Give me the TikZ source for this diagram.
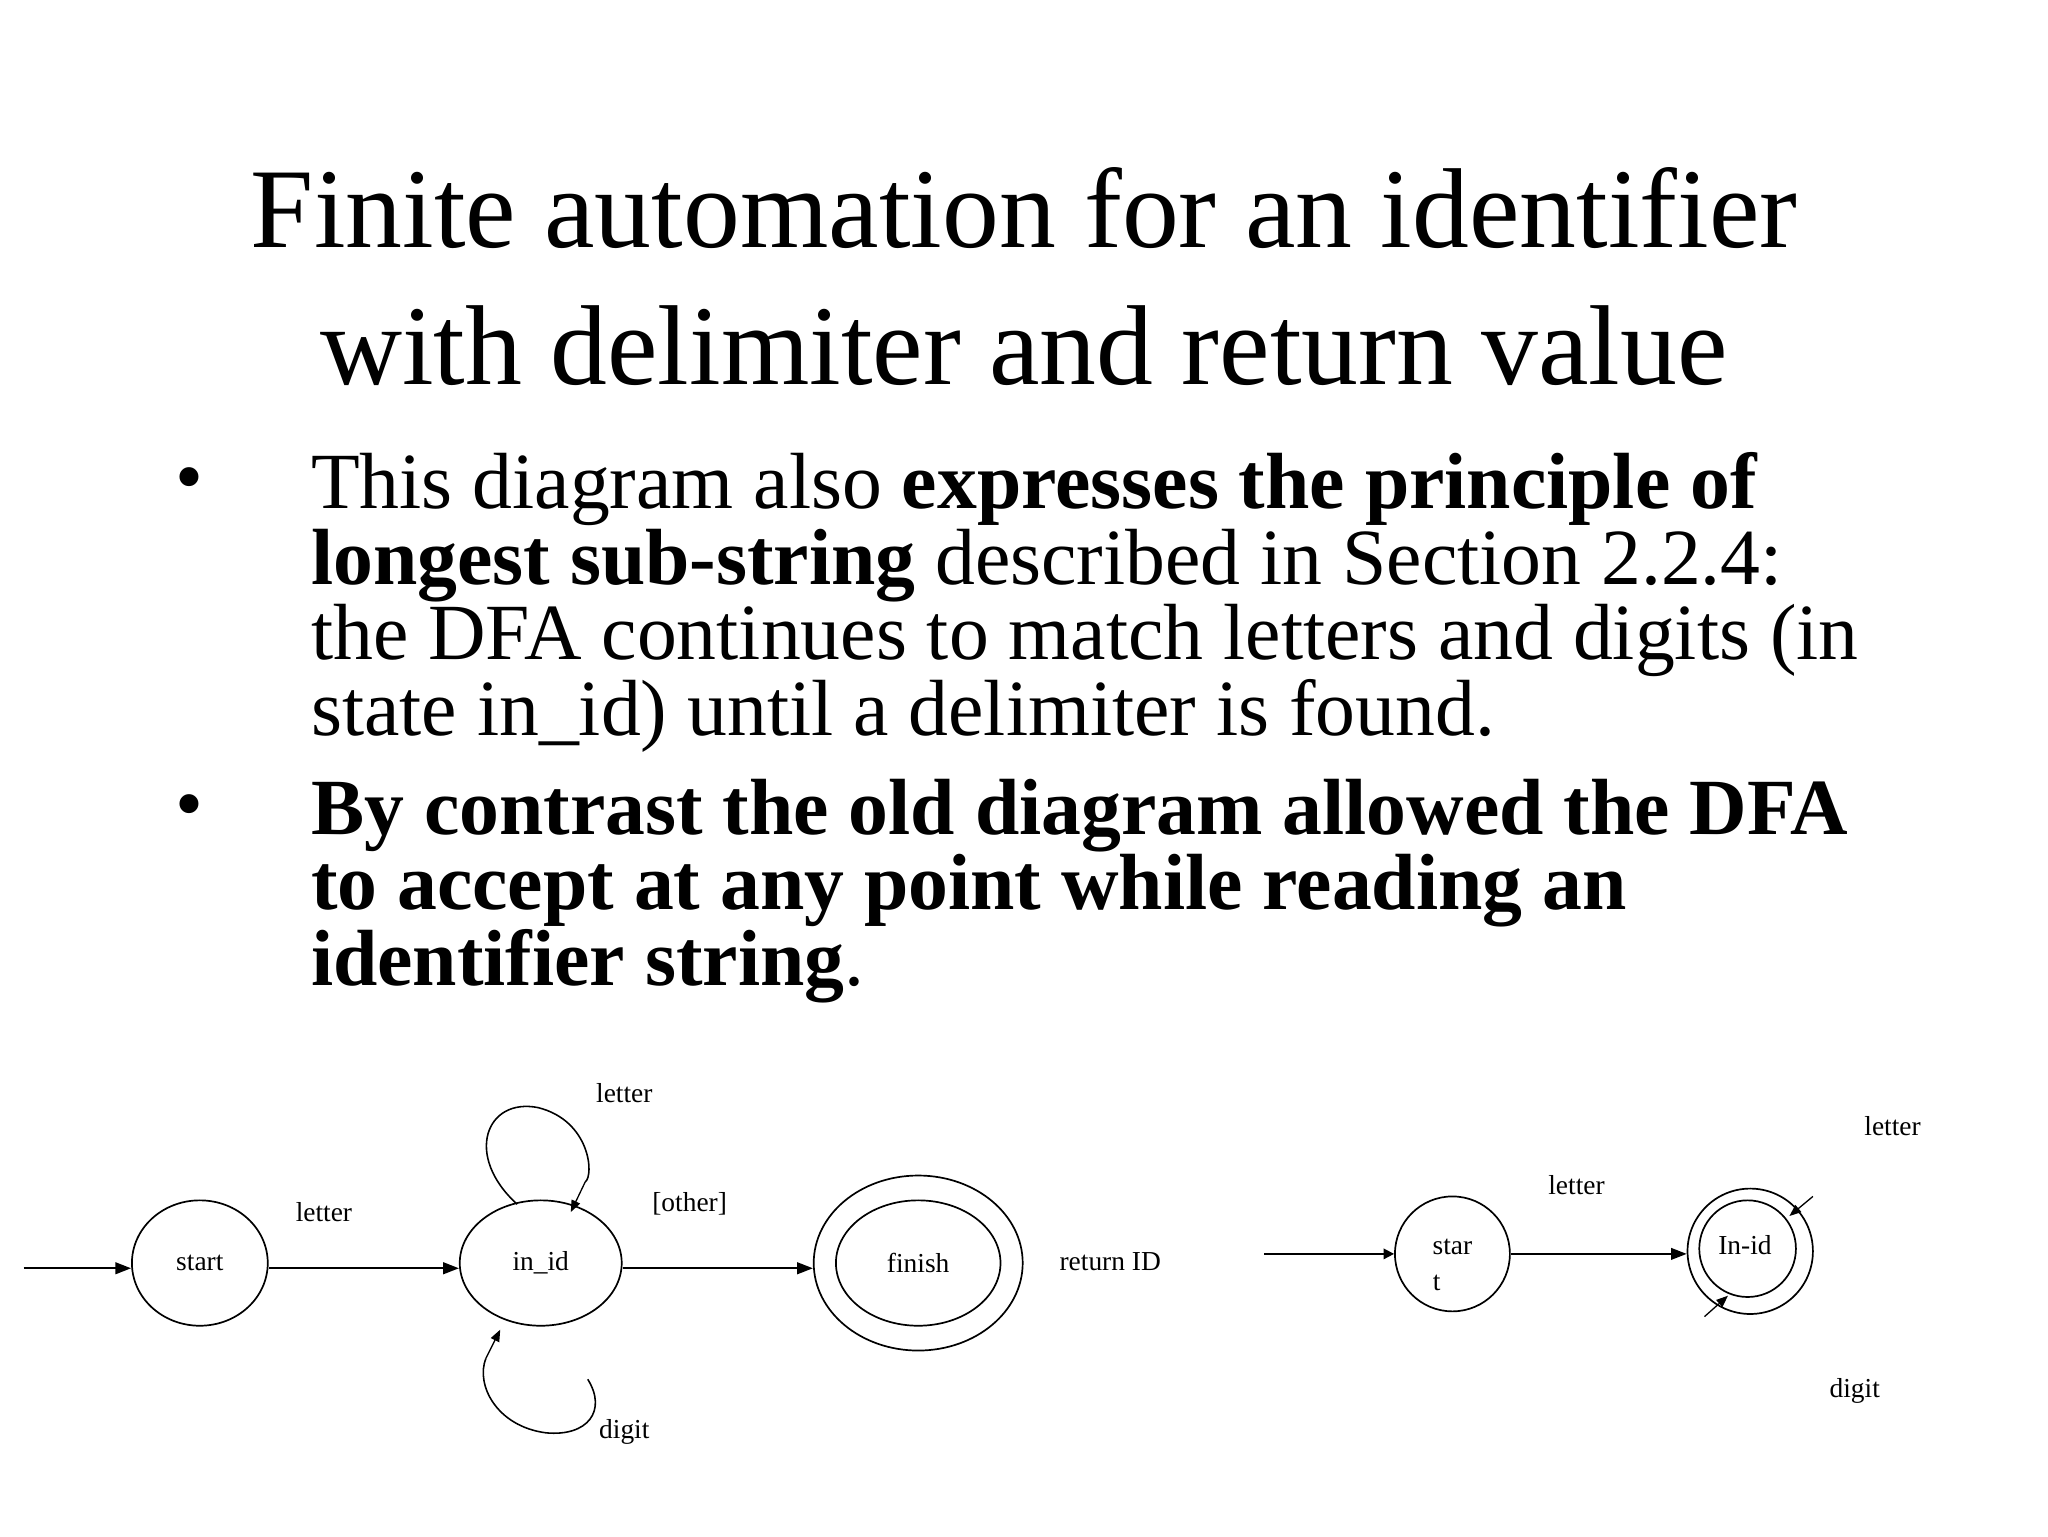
\documentclass[tikz,border=0pt]{standalone}
\usepackage{fontspec}
\setmainfont{Liberation Serif}
\usetikzlibrary{arrows.meta,shapes.geometric}
\begin{document}
\begin{tikzpicture}[x=1pt,y=-1pt,
  st/.style={draw,line width=1.3pt,ellipse,inner sep=0pt},
  lab/.style={font=\fontsize{21}{23}\selectfont},
  arr/.style={line width=1.3pt,-{Triangle[length=12pt,width=9pt]}},
  sarr/.style={line width=1pt,-{Triangle[length=9pt,width=7pt]}}]
\useasboundingbox (0,0) rectangle (1568,1176);
\node[font=\fontsize{87}{105}\selectfont,align=center] (title) at (784,212) {Finite automation for an identifier\\with delimiter and return value};
\node[font=\fontsize{61}{58}\selectfont] (b1) at (145,372) {•};
\node[font=\fontsize{61}{58}\selectfont] (b2) at (145,622) {•};
\node[font=\fontsize{61}{58}\selectfont,align=left,anchor=north west,inner sep=0pt] (t1) at (238,346) {This diagram also \textbf{expresses the principle of}\\\textbf{longest sub-string} described in Section 2.2.4:\\the DFA continues to match letters and digits (in\\state in\_id) until a delimiter is found.};
\node[font=\fontsize{61}{58}\selectfont\bfseries,align=left,anchor=north west,inner sep=0pt] (t2) at (238,596) {By contrast the old diagram allowed the DFA\\to accept at any point while reading an\\identifier string\textmd{.}};
% left DFA
\node[st,minimum width=104pt,minimum height=96pt,lab] (start) at (153,967) {start};
\node[st,minimum width=124pt,minimum height=96pt,lab] (inid) at (414,967) {in\_id};
\node[st,minimum width=160pt,minimum height=134pt] (fin) at (703,967) {};
\node[st,minimum width=126pt,minimum height=96pt,lab] (fini) at (703,967) {finish};
\coordinate (in0) at (18,971);
\draw[arr] (in0) -- (start.west |- in0);
\draw[arr] (start.east |- in0) -- (inid.west |- in0);
\draw[arr] (inid.east |- in0) -- (fin.west |- in0);
\node[lab] (l1) at (248,928) {letter};
\node[lab] (l2) at (528,922) {[other]};
\node[lab] (l3) at (478,837) {letter};
\node[lab] (l4) at (478,1096) {digit};
\node[lab] (l5) at (850,966) {return ID};
\coordinate (a1) at (396,922);
\coordinate (a2) at (437,928);
\draw[line width=1.2pt] (a1) .. controls (355,885) and (372,840) .. (412,848) .. controls (452,858) and (455,900) .. (448,905);
\draw[sarr] (448,905) -- (a2);
\coordinate (b1s) at (450,1056);
\draw[line width=1.2pt] (b1s) .. controls (465,1080) and (450,1100) .. (418,1097) .. controls (380,1092) and (364,1060) .. (372,1040);
\draw[sarr] (372,1040) -- (383,1018);
% right DFA
\node[st,minimum width=88pt,minimum height=88pt] (s2) at (1112,960) {};
\node[lab] (s2a) at (1112,955) {star};
\node[lab] (s2b) at (1100,982) {t};
\node[st,minimum width=96pt,minimum height=96pt] (i2o) at (1340,958) {};
\node[st,minimum width=74pt,minimum height=74pt,lab] (i2) at (1338,956) {};
\node[lab] (i2t) at (1336,953) {In-id};
\coordinate (in2) at (968,960);
\draw[line width=1.3pt,-{Triangle[length=8pt,width=8pt]}] (in2) -- (s2.west |- in2);
\draw[arr] (s2.east |- in2) -- (i2o.west |- in2);
\draw[sarr] (1388,916) -- (1370,931);
\draw[sarr] (1305,1008) -- (1323,992);
\node[lab] (r1) at (1207,907) {letter};
\node[lab] (r2) at (1449,862) {letter};
\node[lab] (r3) at (1420,1065) {digit};
\end{tikzpicture}
\end{document}
